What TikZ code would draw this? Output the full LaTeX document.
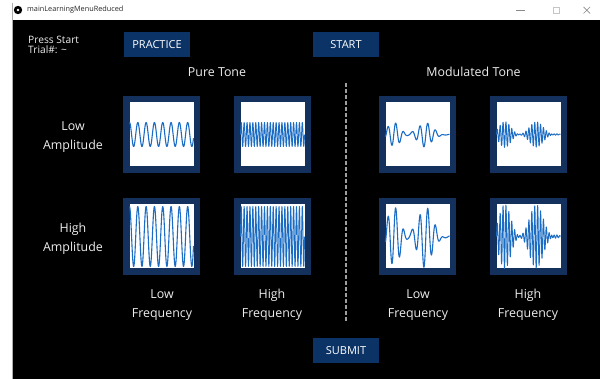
\documentclass[tikz,border=0pt]{standalone}
\usepackage{fontspec}
\setmainfont{Open Sans}
\definecolor{frameblue}{HTML}{14315E}
\definecolor{buttonblue}{HTML}{0B3366}
\definecolor{waveblue}{HTML}{1B6CC4}
\definecolor{labelgray}{HTML}{EDEDED}
\definecolor{chrome}{HTML}{8A8A8A}
\begin{document}
\begin{tikzpicture}[x=1pt,y=-1pt,
  lbl/.style={text=labelgray, font=\fontsize{12.4}{19}\selectfont, align=center, inner sep=0pt},
  btn/.style={fill=buttonblue, text=white, font=\fontsize{11}{13}\selectfont,
              minimum width=66pt, minimum height=25pt, inner sep=0pt},
  wframe/.style={draw=frameblue, line width=6.5pt, fill=white, minimum size=70.5pt, inner sep=0pt},
  wave/.style={waveblue, line width=1.1pt, line join=round},
  fastwave/.style={waveblue, line width=0.9pt, line join=round},
  divider/.style={draw=gray!75, line width=1.2pt, dash pattern=on 4pt off 2pt},
  declare function={
    gs(\u)=exp(-min((\u)*(\u),11));
    modlo(\t)=gs((\t-0.13)/0.133)*sin(2988*\t-28)+gs((\t-0.62)/0.155)*sin(2988*\t-82)+0.05*sin(1100*\t);
    modhi(\t)=gs((\t-0.13)/0.13)*sin(7920*\t)+gs((\t-0.62)/0.15)*sin(7920*\t+40)+0.07*sin(7920*\t)*sin(700*\t);
  }]
\useasboundingbox (0,0) rectangle (600,379);

% window body and title bar
\fill[black] (0,0) rectangle (600,379);
\fill[white] (0,0) rectangle (600,20);
\fill[white] (0,0) rectangle (12.5,379);
\draw[chrome!70, line width=0.8pt] (12.5,3) -- (12.5,379);

% title bar content
\fill[black] (18,10) circle (4.2pt);
\fill[white] (18,10) circle (1.3pt);
\node[anchor=west, inner sep=0pt, text=black!85, font=\fontsize{7.3}{9}\selectfont] (title) at (27,10) {mainLearningMenuReduced};
\draw[chrome, line width=0.7pt] (516,10.5) -- (525,10.5);
\draw[chrome!50, line width=0.6pt] (553.5,7.5) rectangle (559.5,13.5);
\draw[chrome, line width=0.7pt] (583.5,7) -- (590,13.5) (583.5,13.5) -- (590,7);

% status text and buttons
\node[anchor=north west, text=labelgray, font=\fontsize{10.2}{9.6}\selectfont, align=left, inner sep=0pt]
  (status) at (28,36.3) {Press Start\\Trial\#: \textasciitilde};
\node[btn] (practice) at (157,44.5) {PRACTICE};
\node[btn] (start) at (346,44.5) {START};
\node[btn] (submit) at (346,351) {SUBMIT};

% column headings
\node[lbl, anchor=base] (pure) at (217,77) {Pure Tone};
\node[lbl, anchor=base] (modulated) at (473.5,77) {Modulated Tone};

% row headings
\node[lbl] (lowamp) at (73,137.5) {Low\\Amplitude};
\node[lbl] (highamp) at (73,239) {High\\Amplitude};

% frequency labels
\node[lbl] (lf1) at (162,305) {Low\\Frequency};
\node[lbl] (hf1) at (272,305) {High\\Frequency};
\node[lbl] (lf2) at (418,305) {Low\\Frequency};
\node[lbl] (hf2) at (528,305) {High\\Frequency};

% divider between pure and modulated tones
\coordinate (dtop) at (346,83);
\coordinate (dbot) at (346,321);
\draw[divider] (dtop) -- (dbot);

% waveform frames
\node[wframe] (f11) at (161.5,134.5) {};
\node[wframe] (f12) at (272.5,134.5) {};
\node[wframe] (f13) at (417.5,134.5) {};
\node[wframe] (f14) at (528.5,134.5) {};
\node[wframe] (f21) at (161.5,236.5) {};
\node[wframe] (f22) at (272.5,236.5) {};
\node[wframe] (f23) at (417.5,236.5) {};
\node[wframe] (f24) at (528.5,236.5) {};

% pure tones (degrees per pt: 7.7 and 22 cycles across 64pt)
\begin{scope}[shift={(f11.center)}]
  \draw[wave] plot[domain=-32:32, samples=200] (\x,{-12*cos(43.3125*(\x+32))});
\end{scope}
\begin{scope}[shift={(f12.center)}]
  \draw[fastwave] plot[domain=-32:32, samples=441] (\x,{-12*sin(123.75*(\x+32))});
\end{scope}
\begin{scope}[shift={(f21.center)}]
  \draw[wave] plot[domain=-32:32, samples=250] (\x,{-30*cos(43.3125*(\x+32))});
\end{scope}
\begin{scope}[shift={(f22.center)}]
  \draw[fastwave] plot[domain=-32:32, samples=441] (\x,{-30*sin(123.75*(\x+32))});
\end{scope}

% modulated tones
\begin{scope}[shift={(f13.center)}]
  \draw[wave] plot[domain=-32:32, samples=250] (\x,{-12*modlo((\x+32)/64)});
\end{scope}
\begin{scope}[shift={(f14.center)}]
  \draw[fastwave] plot[domain=-32:32, samples=441] (\x,{-12*modhi((\x+32)/64)});
\end{scope}
\begin{scope}[shift={(f23.center)}]
  \draw[wave] plot[domain=-32:32, samples=250] (\x,{-30*modlo((\x+32)/64)});
\end{scope}
\begin{scope}[shift={(f24.center)}]
  \draw[fastwave] plot[domain=-32:32, samples=441] (\x,{-30*modhi((\x+32)/64)});
\end{scope}
\end{tikzpicture}
\end{document}
